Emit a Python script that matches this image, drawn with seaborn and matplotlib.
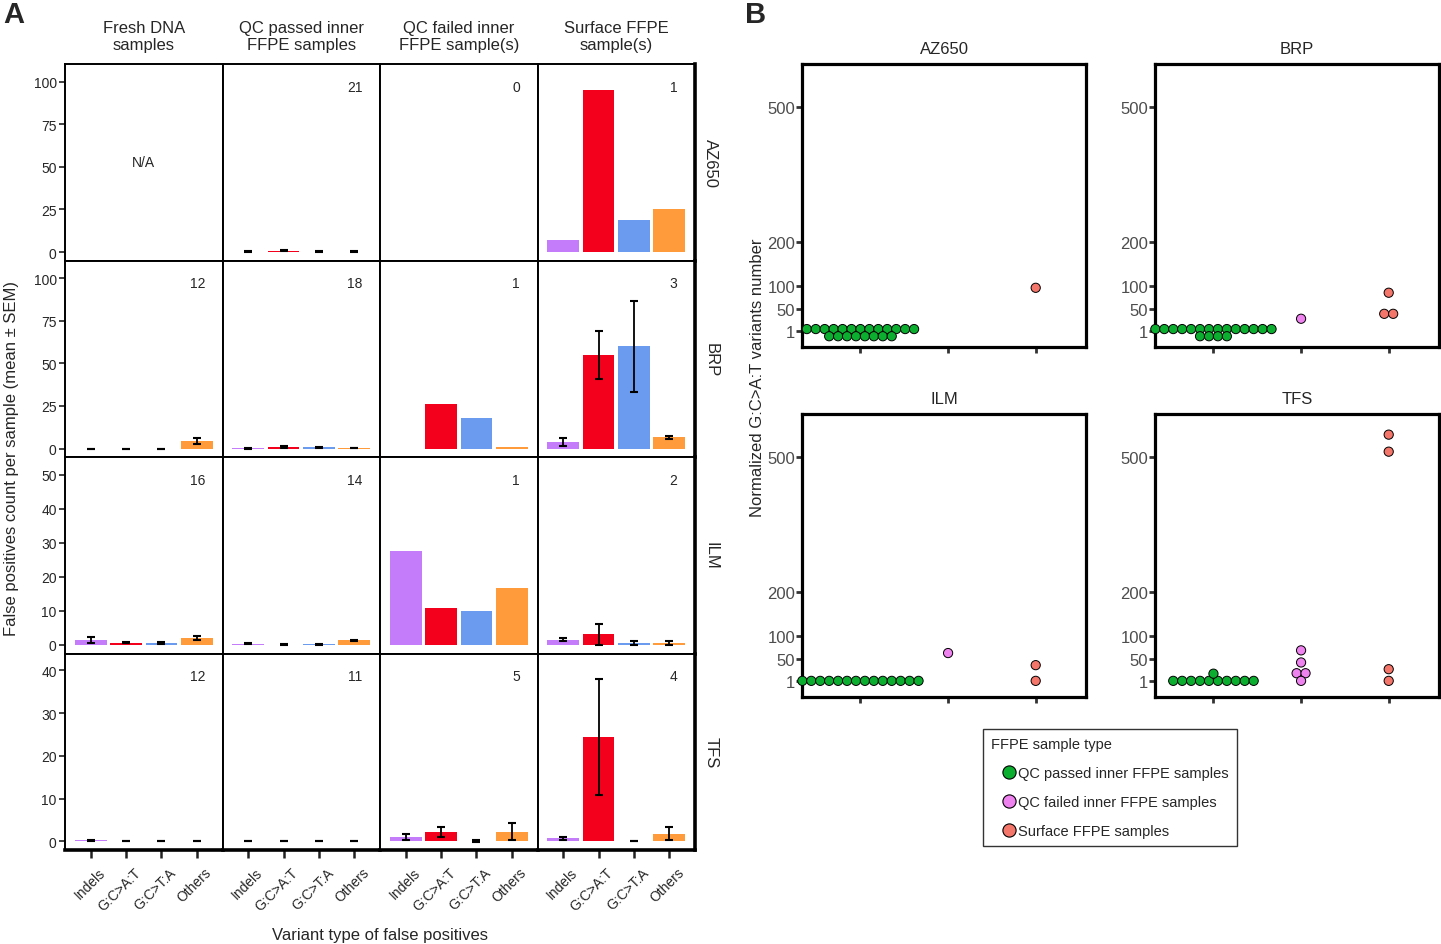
import numpy as np
import pandas as pd
import matplotlib
matplotlib.use("Agg")
import matplotlib.pyplot as plt
import matplotlib.transforms as mtransforms
from matplotlib.legend_handler import HandlerLine2D
import seaborn as sns
from matplotlib.lines import Line2D

# ---------------- data ----------------
CATEGORIES = ["Indels", "G:C>A:T", "G:C>T:A", "Others"]
BAR_COLORS = ["#C47CFB", "#F2001C", "#6A9BEE", "#FF9B3B"]
PLATFORMS = ["AZ650", "BRP", "ILM", "TFS"]
SAMPLE_GROUPS = ["Fresh DNA\nsamples", "QC passed inner\nFFPE samples",
                 "QC failed inner\nFFPE sample(s)", "Surface FFPE\nsample(s)"]

# number of samples per panel (None = N/A)
AZ650_N = [None, 21, 0, 1]
BRP_N = [12, 18, 1, 3]
ILM_N = [16, 14, 1, 2]
TFS_N = [12, 11, 5, 4]

# mean false positive counts (Indels, G:C>A:T, G:C>T:A, Others)
AZ650_MEAN = [None, [0.3, 0.8, 0.3, 0.3], None, [7, 95, 19, 25]]
BRP_MEAN = [[0, 0, 0, 4.5], [0.1, 1.0, 0.7, 0.2], [0, 26, 18, 1], [4, 55, 60, 6.7]]
ILM_MEAN = [[1.4, 0.6, 0.5, 2.0], [0.3, 0.05, 0.1, 1.3], [27.7, 10.9, 9.8, 16.8], [1.5, 3.0, 0.5, 0.5]]
TFS_MEAN = [[0.3, 0, 0, 0], [0.05, 0.1, 0, 0.1], [1.1, 2.3, 0.1, 2.3], [0.7, 24.4, 0, 1.8]]
# SEM (None = single sample, no error bar)
AZ650_SEM = [None, [0.1, 0.2, 0.1, 0.1], None, None]
BRP_SEM = [[0, 0, 0, 1.8], [0.1, 0.4, 0.3, 0.1], None, [2.5, 14, 26.5, 1]]
ILM_SEM = [[0.8, 0.2, 0.2, 0.7], [0.1, 0.05, 0.05, 0.2], None, [0.5, 3.2, 0.6, 0.6]]
TFS_SEM = [[0.1, 0, 0, 0], [0.05, 0.1, 0, 0.1], [0.7, 1.15, 0.2, 2.05], [0.4, 13.6, 0, 1.5]]

ROW_TICKS = [[0, 25, 50, 75, 100], [0, 25, 50, 75, 100],
             [0, 10, 20, 30, 40, 50], [0, 10, 20, 30, 40]]
ROW_YLIM = [(-4.9, 110.3), (-4.9, 110.3), (-2.6, 55.3), (-2.0, 43.9)]

# panel B: normalized G:C>A:T variant numbers per sample
DOT_GROUPS = ["QC passed inner FFPE samples", "QC failed inner FFPE samples", "Surface FFPE samples"]
DOT_COLORS = ["#0CAE2F", "#EE82EE", "#F4766B"]
AZ650_PASSED = [5] * 13 + [-11] * 8
AZ650_FAILED = []
AZ650_SURFACE = [97]
BRP_PASSED = [5] * 14 + [-11] * 4
BRP_FAILED = [28]
BRP_SURFACE = [86, 39, 39]
ILM_PASSED = [1] * 14
ILM_FAILED = [63]
ILM_SURFACE = [36, 1]
TFS_PASSED = [1] * 10 + [17]
TFS_FAILED = [69, 42, 18, 18, 1]
TFS_SURFACE = [550, 512, 27, 1]
B_TICKS = [1, 50, 100, 200, 500]

# ---------------- style ----------------
sns.set_style("white")
plt.rcParams["font.family"] = ["Liberation Sans", "DejaVu Sans"]

W, H = 1441, 945
fig = plt.figure(figsize=(W / 100, H / 100), dpi=100)

def fx(px):
    return px / W

def fy(py):
    return 1 - py / H

# ---------------- panel A ----------------
means_all = [AZ650_MEAN, BRP_MEAN, ILM_MEAN, TFS_MEAN]
sems_all = [AZ650_SEM, BRP_SEM, ILM_SEM, TFS_SEM]
ns_all = [AZ650_N, BRP_N, ILM_N, TFS_N]

label_shift = mtransforms.ScaledTranslation(0.075, -0.15, fig.dpi_scale_trans)

gs = fig.add_gridspec(4, 4, left=fx(65), right=fx(695), top=fy(65), bottom=fy(851),
                      hspace=0, wspace=0)
for r in range(4):
    for c in range(4):
        ax = fig.add_subplot(gs[r, c])
        means = means_all[r][c]
        sems = sems_all[r][c]
        if means is not None:
            df = pd.DataFrame({"type": CATEGORIES, "value": means})
            sns.barplot(data=df, x="type", y="value", hue="type", order=CATEGORIES,
                        hue_order=CATEGORIES, palette=BAR_COLORS, width=0.9,
                        legend=False, ax=ax, linewidth=0, saturation=1)
            if sems is not None:
                ax.errorbar(np.arange(4), means, yerr=sems, fmt="none", ecolor="black",
                            elinewidth=1.3, capsize=3, capthick=1.5, zorder=5)
        ax.set_xlim(-0.72, 3.72)
        ax.set_ylim(*ROW_YLIM[r])
        ax.set_xlabel("")
        ax.set_ylabel("")
        ax.set_xticks(range(4))
        ax.set_xticklabels([])
        ax.set_yticks(ROW_TICKS[r])
        n = ns_all[r][c]
        if n is None:
            ax.text(0.5, 0.5, "N/A", transform=ax.transAxes, ha="center", va="center",
                    fontsize=10)
        else:
            ax.text(3.23, 0.885, str(n), transform=ax.get_xaxis_transform(),
                    ha="right", va="center", fontsize=10)
        for s in ax.spines.values():
            s.set_visible(True)
            s.set_color("black")
            s.set_linewidth(1.4)
        if c == 3:
            ax.spines["right"].set_linewidth(2.6)
            ax.text(1.10, 0.5, PLATFORMS[r], transform=ax.transAxes, rotation=-90,
                    ha="center", va="center", fontsize=12)
        if r == 3:
            ax.spines["bottom"].set_linewidth(2.6)
            ax.tick_params(axis="x", length=6, width=1.8, bottom=True, color="#222222")
            for i, lab in enumerate(CATEGORIES):
                ax.text(i, 0, lab, transform=ax.get_xaxis_transform() + label_shift,
                        rotation=45, ha="right", va="top", rotation_mode="anchor",
                        fontsize=10, clip_on=False)
        else:
            ax.tick_params(axis="x", length=0)
        if c == 0:
            ax.tick_params(axis="y", length=4, width=1.2, left=True, pad=2,
                           labelsize=10, color="#222222")
        else:
            ax.set_yticklabels([])
            ax.tick_params(axis="y", length=0)
        if r == 0:
            ax.text(0.5, 1.06, SAMPLE_GROUPS[c], transform=ax.transAxes, ha="center",
                    va="bottom", fontsize=12, linespacing=1.2)

fig.text(fx(12), fy(458), "False positives count per sample (mean \u00b1 SEM)",
         rotation=90, ha="center", va="center", fontsize=12)
fig.text(fx(380), fy(936), "Variant type of false positives", ha="center",
         va="center", fontsize=12)
fig.text(fx(3), fy(15), "A", fontsize=21, fontweight="bold", ha="left", va="center")
fig.text(fx(745), fy(15), "B", fontsize=21, fontweight="bold", ha="left", va="center")

# ---------------- panel B ----------------
def dot_offsets(values, step):
    vals = np.asarray(values, float)
    offs = np.zeros(len(vals))
    for v in np.unique(vals):
        idx = np.where(vals == v)[0]
        k = len(idx)
        offs[idx] = (np.arange(k) - (k - 1) / 2) * step
    return offs

b_data = {
    "AZ650": [AZ650_PASSED, AZ650_FAILED, AZ650_SURFACE],
    "BRP": [BRP_PASSED, BRP_FAILED, BRP_SURFACE],
    "ILM": [ILM_PASSED, ILM_FAILED, ILM_SURFACE],
    "TFS": [TFS_PASSED, TFS_FAILED, TFS_SURFACE],
}
b_pos = {"AZ650": (802, 65), "BRP": (1155, 65), "ILM": (802, 415), "TFS": (1155, 415)}
bw, bh = 284, 283
step = 0.102
for name, groups in b_data.items():
    x0, y0 = b_pos[name]
    ax = fig.add_axes([fx(x0), fy(y0 + bh), bw / W, bh / H])
    rows = []
    for gi, vals in enumerate(groups):
        offs = dot_offsets(vals, step)
        for v, o in zip(vals, offs):
            rows.append({"x": gi + o, "y": v, "group": DOT_GROUPS[gi]})
    df = pd.DataFrame(rows)
    sns.scatterplot(data=df, x="x", y="y", hue="group", hue_order=DOT_GROUPS,
                    palette=DOT_COLORS, s=44, edgecolor="black", linewidth=0.7,
                    legend=False, ax=ax, zorder=3, clip_on=False)
    ax.set_xlim(-0.667, 2.574)
    ax.set_ylim(-35, 596)
    ax.set_xticks([0, 1, 2])
    ax.set_xticklabels([])
    ax.set_yticks(B_TICKS)
    ax.set_yticklabels([str(t) for t in B_TICKS])
    ax.set_xlabel("")
    ax.set_ylabel("")
    ax.tick_params(axis="both", length=4, width=2.0, color="#333333",
                   left=True, bottom=True, labelsize=12, labelcolor="#4D4D4D", pad=1)
    for s in ax.spines.values():
        s.set_visible(True)
        s.set_color("black")
        s.set_linewidth(2.3)
    ax.set_title(name, fontsize=12, pad=8)

fig.text(fx(757), fy(378), "Normalized G:C>A:T variants number", rotation=90,
         ha="center", va="center", fontsize=12)

handles = [Line2D([0], [0], marker="o", linestyle="", markerfacecolor=c,
                  markeredgecolor="black", markeredgewidth=0.8, markersize=9.5)
           for c in DOT_COLORS]
leg = fig.legend(handles, DOT_GROUPS, title="FFPE sample type", loc="upper left",
                 bbox_to_anchor=(fx(983), fy(730)), frameon=True, fancybox=False,
                 edgecolor="black", fontsize=10.5, title_fontsize=10.5, alignment="left",
                 handlelength=1.7, handletextpad=0.15, labelspacing=1.02,
                 borderpad=0.55, borderaxespad=0,
                 handler_map={Line2D: HandlerLine2D(xpad=0.7)})
leg.get_frame().set_linewidth(1.0)

fig.savefig("out.png", dpi=100)
